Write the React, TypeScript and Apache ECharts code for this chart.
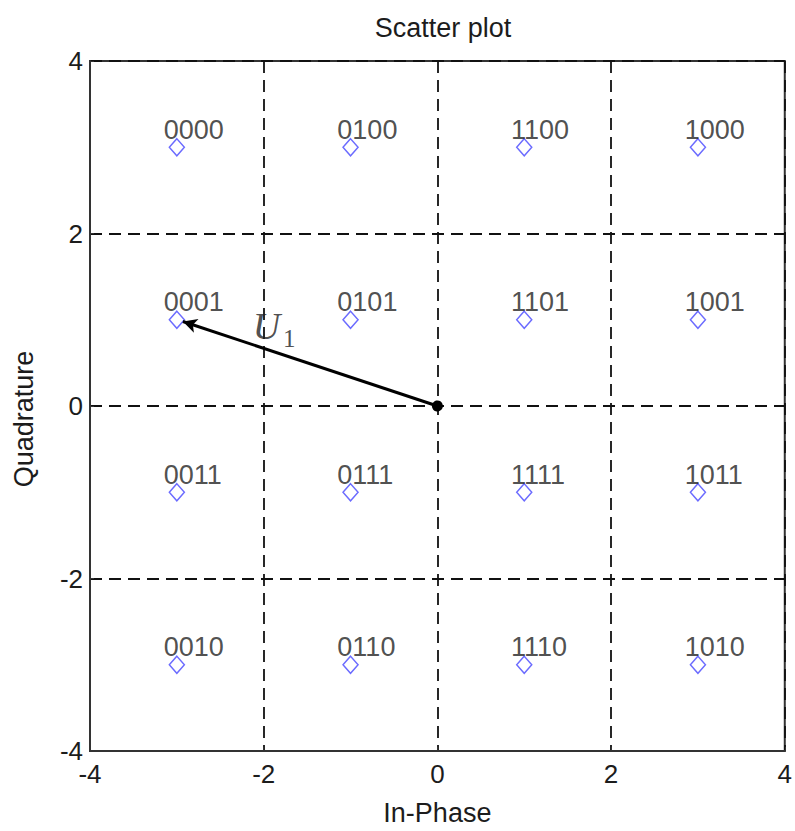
import React, { useEffect, useRef } from "react";
import * as echarts from "echarts";

// 16-QAM constellation points (in-phase, quadrature) and their Gray-code labels
const iValues = [-3, -1, 1, 3, -3, -1, 1, 3, -3, -1, 1, 3, -3, -1, 1, 3];
const qValues = [3, 3, 3, 3, 1, 1, 1, 1, -1, -1, -1, -1, -3, -3, -3, -3];
const codes = [
  "0000", "0100", "1100", "1000",
  "0001", "0101", "1101", "1001",
  "0011", "0111", "1111", "1011",
  "0010", "0110", "1110", "1010",
];
// vector U1 from the origin to the symbol 0001
const vectorStart = [0, 0];
const vectorEnd = [-2.93, 0.98];
const vectorLabelAt = [-1.88, 0.93];

const FONT = "'Liberation Sans', Arial, sans-serif";
const SERIF = "'Liberation Serif', 'DejaVu Serif', serif";
const INK = "#1c1c1c";

export default function App() {
  const ref = useRef<HTMLDivElement>(null);

  useEffect(() => {
    if (!ref.current) return;
    const chart = echarts.init(ref.current, undefined, { renderer: "svg" });
    const points = iValues.map((x, k) => ({ value: [x, qValues[k]], name: codes[k] }));

    const axisCommon = {
      type: "value" as const,
      min: -4,
      max: 4,
      interval: 2,
      axisLine: { show: true, onZero: false, lineStyle: { color: "#333", width: 2 } },
      axisTick: { show: true, inside: true, length: 4, lineStyle: { color: "#333" } },
      splitLine: {
        show: true,
        lineStyle: { color: "#111", type: [12, 7], width: 1.8 },
      },
      axisLabel: { color: INK, fontSize: 26, fontFamily: FONT },
      nameTextStyle: { color: INK, fontSize: 27, fontFamily: FONT },
      nameLocation: "middle" as const,
    };

    chart.setOption({
      animation: false,
      backgroundColor: "#fff",
      title: {
        text: "Scatter plot",
        left: 438,
        top: 9,
        textAlign: "center",
        textStyle: { color: INK, fontSize: 27, fontWeight: "normal", fontFamily: FONT },
      },
      graphic: [
        {
          type: "text",
          x: 24,
          y: 419,
          rotation: Math.PI / 2,
          style: {
            text: "Quadrature",
            fill: INK,
            font: `27px ${FONT}`,
            align: "center",
            verticalAlign: "middle",
          },
        },
      ],
      grid: {
        left: 90,
        right: 6,
        top: 61,
        bottom: 72,
        show: true,
        borderColor: "#333",
        borderWidth: 2,
        backgroundColor: "transparent",
      },
      xAxis: {
        ...axisCommon,
        name: "In-Phase",
        nameGap: 48,
        axisLabel: { ...axisCommon.axisLabel, margin: 10 },
      },
      yAxis: {
        ...axisCommon,
        axisLabel: { ...axisCommon.axisLabel, margin: 7 },
      },
      series: [
        {
          type: "scatter",
          data: points,
          symbol: "diamond",
          symbolSize: [15, 17],
          itemStyle: { color: "transparent", borderColor: "#4646ff", borderWidth: 1.5 },
          label: {
            show: true,
            formatter: (p: any) => p.name,
            position: [-5, -8],
            align: "left",
            verticalAlign: "middle",
            color: "#222",
            fontSize: 27,
            fontFamily: FONT,
          },
          z: 3,
          markLine: {
            silent: true,
            symbol: ["circle", "arrow"],
            symbolSize: [11, 14],
            label: { show: false },
            lineStyle: { color: "#000", width: 3, type: "solid" },
            data: [[{ coord: vectorStart }, { coord: vectorEnd }]],
          },
        },
        {
          type: "scatter",
          data: [vectorLabelAt],
          symbolSize: 0,
          silent: true,
          label: {
            show: true,
            position: "inside",
            formatter: "{u|U}{s|1}",
            rich: {
              u: { fontFamily: SERIF, fontStyle: "italic", fontSize: 38, color: "#222" },
              s: { fontFamily: SERIF, fontSize: 25, color: "#222", padding: [26, 0, 0, 3] },
            },
          },
        },
      ],
    });
    return () => chart.dispose();
  }, []);

  return (
    <div
      ref={ref}
      style={{ position: "fixed", left: 0, top: 0, width: 795, height: 831 }}
    />
  );
}
